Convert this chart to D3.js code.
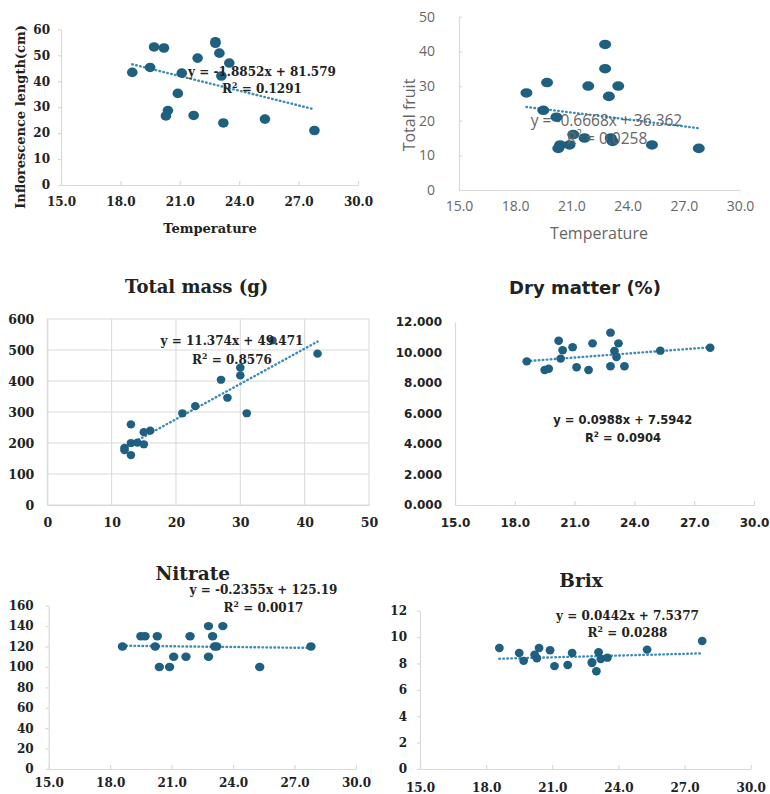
<!DOCTYPE html>
<html><head><meta charset="utf-8">
<script src="https://cdn.jsdelivr.net/npm/d3@7"></script>
<style>body{margin:0;background:#fff;} svg{display:block}</style>
</head><body>
<svg id="c" width="770" height="794"></svg>
<script>
// ---------- data ----------
const temperature = [18.6,19.5,19.7,20.2,20.3,20.4,20.9,21.1,21.7,21.9,22.8,22.8,23.0,23.1,23.2,23.5,25.3,27.8];
const inflorescenceLength = [43.4,45.3,53.2,52.8,26.6,28.7,35.3,43.1,26.8,48.9,54.6,55.2,50.8,42.0,23.9,47.0,25.4,21.0];
const totalFruit = [28,23,31,21,12,13,13,16,15,30,42,35,27,15,14,30,13,12];
const massFruit = [12,12,13,13,13,14,15,15,16,21,23,27,28,30,30,31,35,42];
const totalMass = [184,177,260,161,200,201,196,235,240,296,319,404,346,443,418,296,531,488];
const dryMatter = [9.42,8.85,8.93,10.77,9.60,10.15,10.35,9.03,8.85,10.60,11.30,9.10,10.10,9.70,10.60,9.10,10.12,10.31];
const nitrate = [120,130,130,120,130,100,100,110,110,130,140,110,130,120,120,140,100,120];
const brix = [9.17,8.80,8.20,8.67,8.40,9.17,9.00,7.80,7.88,8.80,8.04,8.10,7.41,8.85,8.34,8.44,9.05,9.70];

const tempTicks = [15,18,21,24,27,30];
const inflTicks = [0,10,20,30,40,50,60];
const fruitTicks = [0,10,20,30,40,50];
const massXTicks = [0,10,20,30,40,50];
const massYTicks = [0,100,200,300,400,500,600];
const dryTicks = [0,2,4,6,8,10,12];
const nitrateTicks = [0,20,40,60,80,100,120,140,160];
const brixTicks = [0,2,4,6,8,10,12];

const slopes = [-1.8852,-0.6668,11.374,0.0988,-0.2355,0.0442];
const intercepts = [81.579,36.362,49.471,7.5942,125.19,7.5377];
const equations = ["y = -1.8852x + 81.579","y = -0.6668x + 36.362","y = 11.374x + 49.471","y = 0.0988x + 7.5942","y = -0.2355x + 125.19","y = 0.0442x + 7.5377"];
const rSquared = ["0.1291","0.0258","0.8576","0.0904","0.0017","0.0288"];
const titles = ["","","Total mass (g)","Dry matter (%)","Nitrate","Brix"];
const xTitles = ["Temperature","Temperature","","","",""];
const yTitles = ["Inflorescence length(cm)","Total fruit","","","",""];

// ---------- style ----------
const DOT = "#1f5f80", TREND = "#3b8bb8", AXIS = "#d9d9d9";
const SERIF = "'DejaVu Serif', serif", SANS = "'DejaVu Sans', sans-serif", LIGHT = "'Open Sans', sans-serif";
const svg = d3.select("#c");

function drawPanel(o, i) {
  const g = svg.append("g");
  const x = d3.scaleLinear().domain(o.xDomain).range(o.xRange);
  const y = d3.scaleLinear().domain(o.yDomain).range(o.yRange);

  if (o.grid) {
    g.append("g").selectAll("line.v").data(o.xTicks).join("line")
      .attr("x1", d => x(d)).attr("x2", d => x(d))
      .attr("y1", y(o.yDomain[0])).attr("y2", y(o.yDomain[1]))
      .attr("stroke", AXIS).attr("stroke-width", 1);
    g.append("g").selectAll("line.h").data(o.yTicks).join("line")
      .attr("x1", x(o.xDomain[0])).attr("x2", x(o.xDomain[1]))
      .attr("y1", d => y(d)).attr("y2", d => y(d))
      .attr("stroke", AXIS).attr("stroke-width", 1);
  }

  const xa = d3.axisBottom(x).tickValues(o.xTicks).tickFormat(o.xFmt)
    .tickSizeInner(o.xTick).tickSizeOuter(0).tickPadding(o.xPad);
  const gx = g.append("g").attr("transform", `translate(0,${o.yRange[0]})`).call(xa);
  const ya = d3.axisLeft(y).tickValues(o.yTicks).tickFormat(o.yFmt)
    .tickSizeInner(o.yTick).tickSizeOuter(0).tickPadding(o.yPad);
  const gy = g.append("g").attr("transform", `translate(${o.xRange[0]},0)`).call(ya);
  [gx, gy].forEach(a => {
    a.select(".domain").attr("stroke", AXIS).attr("stroke-width", 1.2);
    a.selectAll(".tick line").attr("stroke", AXIS).attr("stroke-width", 1.2);
    a.selectAll(".tick text").attr("font-family", o.font).attr("font-weight", o.weight)
      .attr("font-size", o.tickSize).attr("fill", o.color);
  });

  // trendline
  const x0 = d3.min(o.xs), x1 = d3.max(o.xs);
  g.append("line")
    .attr("x1", x(x0)).attr("y1", y(slopes[i] * x0 + intercepts[i]))
    .attr("x2", x(x1)).attr("y2", y(slopes[i] * x1 + intercepts[i]))
    .attr("stroke", TREND).attr("stroke-width", 2.4)
    .attr("stroke-dasharray", "0.6,3.4").attr("stroke-linecap", "round");

  // dots
  g.append("g").selectAll("ellipse").data(d3.zip(o.xs, o.ys)).join("ellipse")
    .attr("cx", d => x(d[0])).attr("cy", d => y(d[1]))
    .attr("rx", o.rx).attr("ry", o.ry).attr("fill", DOT);

  // equation + R²
  const t = (txt, px, py, size) => g.append("text").attr("x", px).attr("y", py)
    .attr("text-anchor", "middle").attr("font-family", o.font).attr("font-weight", o.weight)
    .attr("font-size", size).attr("fill", o.color).text(txt);
  t(equations[i], o.eq[0], o.eq[1], o.eqSize);
  const r = g.append("text").attr("x", o.r2[0]).attr("y", o.r2[1])
    .attr("text-anchor", "middle").attr("font-family", o.font).attr("font-weight", o.weight)
    .attr("font-size", o.eqSize).attr("fill", o.color);
  r.append("tspan").text("R");
  r.append("tspan").attr("dy", -o.eqSize * 0.4).attr("font-size", o.eqSize * 0.65).text("2");
  r.append("tspan").attr("dy", o.eqSize * 0.4).text(" = " + rSquared[i]);

  if (titles[i]) t(titles[i], o.title[0], o.title[1], o.titleSize);
  if (xTitles[i]) t(xTitles[i], o.xt[0], o.xt[1], o.axTitleSize);
  if (yTitles[i]) g.append("text").attr("transform", `translate(${o.yt[0]},${o.yt[1]}) rotate(-90)`)
    .attr("text-anchor", "middle").attr("font-family", o.font).attr("font-weight", o.weight)
    .attr("font-size", o.axTitleSize).attr("fill", o.color).text(yTitles[i]);
}

const f1 = d3.format(".1f"), f0 = d3.format("d"), f3 = d3.format(".3f");

const panels = [
  { xs: temperature, ys: inflorescenceLength, xDomain: [15,30], yDomain: [0,60],
    xRange: [61,358], yRange: [185,29.3], xTicks: tempTicks, yTicks: inflTicks, xFmt: f1, yFmt: f0,
    xTick: -4, yTick: 3, xPad: 12, yPad: 8, font: SERIF, weight: "bold", color: "#222", tickSize: 12,
    rx: 5.3, ry: 4.8, eq: [262, 75.5], r2: [262, 92.5], eqSize: 12,
    xt: [210, 232.5], yt: [25, 117], axTitleSize: 13 },
  { xs: temperature, ys: totalFruit, xDomain: [15,30], yDomain: [0,50],
    xRange: [459,740], yRange: [190,16.7], xTicks: tempTicks, yTicks: fruitTicks, xFmt: f1, yFmt: f0,
    xTick: 0, yTick: -3, xPad: 11, yPad: 24, font: LIGHT, weight: "normal", color: "#666", tickSize: 14,
    rx: 6, ry: 4.8, eq: [606.5, 126], r2: [607, 143.5], eqSize: 15.5,
    xt: [599, 239], yt: [415, 115], axTitleSize: 16 },
  { xs: massFruit, ys: totalMass, xDomain: [0,50], yDomain: [0,600], grid: true,
    xRange: [47.3,369], yRange: [505,319], xTicks: massXTicks, yTicks: massYTicks, xFmt: f0, yFmt: f0,
    xTick: 0, yTick: 0, xPad: 13.5, yPad: 13, font: SERIF, weight: "bold", color: "#222", tickSize: 12.5,
    rx: 4.3, ry: 4.1, eq: [232, 344.5], r2: [232, 363.5], eqSize: 12,
    title: [196.7, 293.3], titleSize: 18 },
  { xs: temperature, ys: dryMatter, xDomain: [15,30], yDomain: [0,12],
    xRange: [455,754], yRange: [505,322], xTicks: tempTicks, yTicks: dryTicks, xFmt: f1, yFmt: f3,
    xTick: -4, yTick: 0, xPad: 13.5, yPad: 13, font: SANS, weight: "bold", color: "#222", tickSize: 12,
    rx: 4.4, ry: 4.2, eq: [622.8, 423.5], r2: [623, 441.5], eqSize: 11.5,
    title: [585, 294.3], titleSize: 18 },
  { xs: temperature, ys: nitrate, xDomain: [15,30], yDomain: [0,160],
    xRange: [48.7,356], yRange: [769,605.7], xTicks: tempTicks, yTicks: nitrateTicks, xFmt: f1, yFmt: f0,
    xTick: -4, yTick: 3, xPad: 9.5, yPad: 12, font: SERIF, weight: "bold", color: "#222", tickSize: 12,
    rx: 4.7, ry: 4.2, eq: [263.5, 593.5], r2: [263.5, 611.5], eqSize: 12,
    title: [192.7, 580], titleSize: 18.5 },
  { xs: temperature, ys: brix, xDomain: [15,30], yDomain: [0,12],
    xRange: [420,750.7], yRange: [769,610.7], xTicks: tempTicks, yTicks: brixTicks, xFmt: f1, yFmt: f0,
    xTick: -4, yTick: 3, xPad: 14, yPad: 10, font: SERIF, weight: "bold", color: "#222", tickSize: 12,
    rx: 4.4, ry: 4.2, eq: [627.5, 620.2], r2: [627.5, 637], eqSize: 12,
    title: [581, 587.3], titleSize: 18.5 }
];
panels.forEach(drawPanel);
</script>
</body></html>
